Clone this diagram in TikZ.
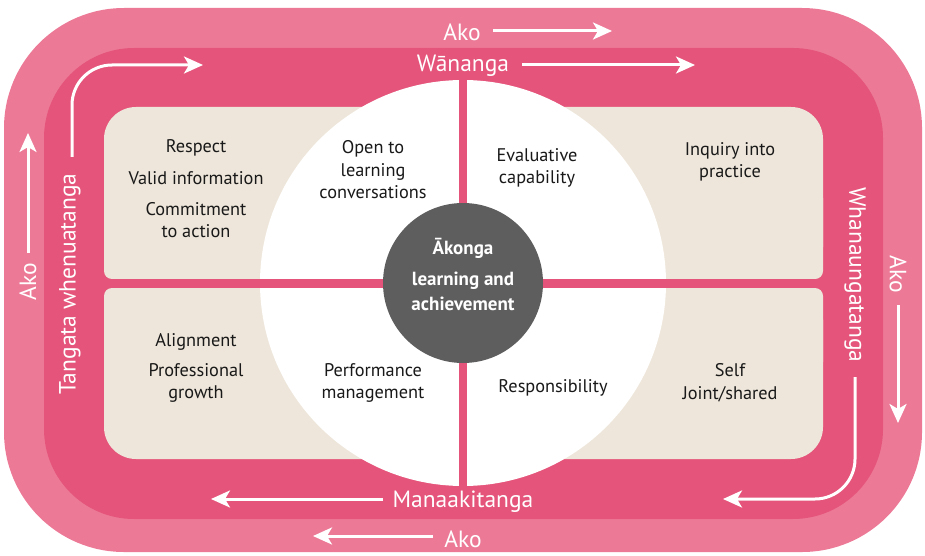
\documentclass[tikz,border=0pt]{standalone}
\usepackage{fontspec}
\setmainfont{PT Sans}
\usetikzlibrary{arrows.meta}

\definecolor{akopink}{HTML}{EC7A97}
\definecolor{bandpink}{HTML}{E5547A}
\definecolor{beige}{HTML}{EEE6DA}
\definecolor{centregrey}{HTML}{5E5E5E}

\tikzset{
  bandlabel/.style={text=white, font=\fontsize{23.5}{28}\selectfont, inner sep=0pt},
  quadtext/.style={text=black!90, align=center, font=\fontsize{18.3}{22.5}\selectfont, inner sep=0pt},
  centretext/.style={text=white, align=center, font=\bfseries\fontsize{19}{25}\selectfont, inner sep=0pt},
  flow/.style={draw=white, line width=3pt, -{Stealth[length=19pt,width=17pt,inset=5pt]}},
}

\begin{document}
\begin{tikzpicture}[x=1pt,y=-1pt]
  \useasboundingbox (0,0) rectangle (925,556);

  % bands
  \fill[akopink, rounded corners=120] (4,8) rectangle (922,552);
  \fill[bandpink, rounded corners=90] (44,48) rectangle (883,519);

  % quadrant boxes
  \fill[beige, rounded corners=32] (104,107) rectangle (463,279);
  \fill[beige, rounded corners=8] (104,190) rectangle (463,279);
  \fill[beige, rounded corners=32] (463,107) rectangle (823,279);
  \fill[beige, rounded corners=8] (463,190) rectangle (823,279);
  \fill[beige, rounded corners=32] (104,288) rectangle (463,459);
  \fill[beige, rounded corners=8] (104,288) rectangle (463,370);
  \fill[beige, rounded corners=32] (463,288) rectangle (823,459);
  \fill[beige, rounded corners=8] (463,288) rectangle (823,370);

  % circle and cross
  \fill[white] (463,283) circle (203);
  \fill[bandpink] (459,70) rectangle (467,500);
  \fill[bandpink] (100,279) rectangle (827,288);
  \fill[centregrey] (463,283) circle (80);

  % centre
  \node[centretext] (akonga) at (463,248) {Ākonga};
  \node[centretext] (learning) at (463,291) {learning and\\achievement};

  % band labels
  \node[bandlabel] (akotop) at (462,32) {Ako};
  \node[bandlabel] (wananga) at (463,66) {Wānanga};
  \node[bandlabel] (manaaki) at (463,502) {Manaakitanga};
  \node[bandlabel] (akobottom) at (463,539) {Ako};
  \node[bandlabel, rotate=90] (tangata) at (70,284) {Tangata whenuatanga};
  \node[bandlabel, rotate=90] (akoleft) at (28,282) {Ako};
  \node[bandlabel, rotate=-90] (whanau) at (855,275) {Whanaungatanga};
  \node[bandlabel, rotate=-90] (akoright) at (898,274) {Ako};

  % arrow ends
  \coordinate (akotopstart) at (493,31);
  \coordinate (akotopend) at (612,31);
  \coordinate (wanangastart) at (522,65);
  \coordinate (wananganend) at (695,65);
  \coordinate (manaakistart) at (383,499);
  \coordinate (manaakiend) at (211,499);
  \coordinate (akobottomstart) at (433,536);
  \coordinate (akobottomend) at (313,536);
  \coordinate (akoleftstart) at (28,253);
  \coordinate (akoleftend) at (28,133);
  \coordinate (akorightstart) at (898,305);
  \coordinate (akorightend) at (898,423);
  \coordinate (tangatastart) at (72,157);
  \coordinate (tangataend) at (203,65);
  \coordinate (whanaustart) at (855,377);
  \coordinate (whanauend) at (723,499);

  \draw[flow] (akotopstart) -- (akotopend);
  \draw[flow] (wanangastart) -- (wananganend);
  \draw[flow] (manaakistart) -- (manaakiend);
  \draw[flow] (akobottomstart) -- (akobottomend);
  \draw[flow] (akoleftstart) -- (akoleftend);
  \draw[flow] (akorightstart) -- (akorightend);
  \draw[flow, rounded corners=40] (tangatastart) |- (tangataend);
  \draw[flow, rounded corners=40] (whanaustart) |- (whanauend);

  % quadrant texts
  \node[quadtext] (respect) at (196,148) {Respect};
  \node[quadtext] (validinfo) at (196,178) {Valid information};
  \node[quadtext] (commit) at (196,220) {Commitment\\to action};
  \node[quadtext] (openlearn) at (373,170) {Open to\\learning\\conversations};
  \node[quadtext] (evalcap) at (537,168) {Evaluative\\capability};
  \node[quadtext] (inquiry) at (730,162) {Inquiry into\\practice};
  \node[quadtext] (align) at (196,342) {Alignment};
  \node[quadtext] (profgrowth) at (196,383) {Professional\\growth};
  \node[quadtext] (perform) at (373,383) {Performance\\management};
  \node[quadtext] (respons) at (553,388) {Responsibility};
  \node[quadtext] (selfjoint) at (730,383) {Self\\Joint/shared};
\end{tikzpicture}
\end{document}
